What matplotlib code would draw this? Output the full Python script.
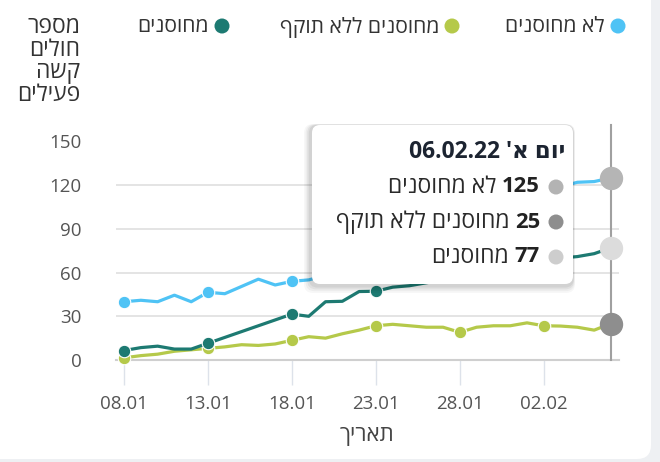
import numpy as np
import matplotlib
matplotlib.use('Agg')
import matplotlib.pyplot as plt
from matplotlib.patches import FancyBboxPatch, Circle
from matplotlib.text import Annotation
from matplotlib.transforms import Affine2D

plt.rcParams['font.family'] = ['Open Sans', 'DejaVu Sans']

# ---- data ----
dates = ['08.01', '09.01', '10.01', '11.01', '12.01', '13.01', '14.01', '15.01', '16.01', '17.01',
         '18.01', '19.01', '20.01', '21.01', '22.01', '23.01', '24.01', '25.01', '26.01', '27.01',
         '28.01', '29.01', '30.01', '31.01', '01.02', '02.02', '03.02', '04.02', '05.02', '06.02']
unvaccinated = [40, 41, 40, 44.5, 40, 46.5, 45.5, 50.5, 55.5, 51.5,
                54, 55, 58, 62, 66, 70, 75, 80, 84, 88,
                93, 98, 102, 107, 111, 115, 119, 122, 122.5, 125]
expired = [1.5, 3, 4, 6, 7, 8, 9, 10.5, 10, 11,
           13.5, 16, 15, 18, 20.5, 23.5, 24.5, 23.5, 22.5, 22.5,
           19, 22.5, 23.5, 23.5, 25.5, 23.5, 23.3, 22.5, 20.5, 25]
vaccinated = [6.5, 8.5, 9.5, 7.5, 7.5, 11.5, 15.5, 19.5, 23.5, 27.5,
              31.5, 30, 40, 40.3, 47, 47.2, 50, 51, 53, 55,
              58, 60, 62, 64, 66, 68, 70, 71, 73, 77]
yticks = [0, 30, 60, 90, 120, 150]
tick_idx = [0, 5, 10, 15, 20, 25]

names = {'unvac': 'לא מחוסנים', 'expired': 'מחוסנים ללא תוקף', 'vac': 'מחוסנים'}
ytitle = ['מספר', 'חולים', 'קשה', 'פעילים']
xtitle = 'תאריך'
tip_title = "יום א'"
tip_date = '06.02.22'

c_blue = '#4fc3f5'
c_green = '#b5c94a'
c_teal = '#1d7a72'


def heb(s):
    # matplotlib has no bidi support: flip the Hebrew text for display
    return s[::-1]


W, H = 660, 462
fig = plt.figure(figsize=(W / 100, H / 100), dpi=100)
fig.patch.set_facecolor('#eef0f3')
# pixel transform, y pointing down
pxT = Affine2D().scale(0.01, -0.01).translate(0, H / 100) + fig.dpi_scale_trans

fig.add_artist(FancyBboxPatch((-30, -30), 681, 489, boxstyle='round,pad=0,rounding_size=14',
                              transform=pxT, facecolor='white', edgecolor='none', zorder=-5))

ax = fig.add_axes([116 / W, 102 / H, 503 / W, 218.5 / H])
ax.set_facecolor('none')
x = np.arange(len(dates))

ax.plot(x, unvaccinated, color=c_blue, lw=2.3, marker='o', markevery=5, ms=9,
        mec='white', mew=0.8, zorder=3, clip_on=False, solid_capstyle='round')
ax.plot(x, expired, color=c_green, lw=2.3, marker='o', markevery=5, ms=9,
        mec='white', mew=0.8, zorder=4, clip_on=False, solid_capstyle='round')
ax.plot(x, vaccinated, color=c_teal, lw=2.3, marker='o', markevery=5, ms=9,
        mec='white', mew=0.8, zorder=5, clip_on=False, solid_capstyle='round')

# hover line and markers at the last day
last = len(dates) - 1
ax.plot([last, last], [0, 161], color='#a0a0a0', lw=1.5, zorder=6, clip_on=False)
ax.scatter([last], [unvaccinated[last]], s=250, color='#b5b5b5', zorder=7, clip_on=False)
ax.scatter([last], [vaccinated[last]], s=250, color='#dcdcdc', zorder=7, clip_on=False)
ax.scatter([last], [expired[last]], s=250, color='#8e8e8e', zorder=7, clip_on=False)

ax.set_xlim(-0.48, last + 0.48)
ax.set_ylim(0, 150)
ax.set_yticks(yticks)
ax.set_yticklabels([str(v) for v in yticks])
ax.set_xticks(tick_idx)
ax.set_xticklabels([dates[i] for i in tick_idx])
ax.grid(axis='y', color='#e2e2e2', lw=1.3)
ax.set_axisbelow(True)
for s in ['top', 'right', 'left']:
    ax.spines[s].set_visible(False)
ax.spines['bottom'].set_color('#cfcfcf')
ax.spines['bottom'].set_linewidth(1.5)
ax.tick_params(axis='y', length=0, pad=25, labelsize=13.5, labelcolor='#555555')
ax.tick_params(axis='x', length=18, width=1, color='#dde2ea', pad=7,
               labelsize=13.5, labelcolor='#555555')

# axis titles
fig.text(367, 436, heb(xtitle), transform=pxT, ha='center', va='center',
         fontsize=16, color='#444444')
for i, line in enumerate(ytitle):
    fig.text(80, 27 + 22.5 * i, heb(line), transform=pxT, ha='right', va='center',
             fontsize=16.5, color='#333333')

# legend across the top
legend_items = [(618, c_blue, names['unvac']), (452, c_green, names['expired']),
                (222, c_teal, names['vac'])]
for bx, col, label in legend_items:
    fig.add_artist(Circle((bx, 26), 7.5, transform=pxT, facecolor=col, edgecolor='none'))
    fig.text(bx - 13, 27, heb(label), transform=pxT, ha='right', va='center',
             fontsize=15.2, color='#333333')

# tooltip box with soft shadow
for k, a in [(5, 0.03), (4, 0.04), (3, 0.05), (2, 0.06)]:
    fig.add_artist(FancyBboxPatch((312 - k * 0.6, 125 + k * 0.8), 261, 159,
                                  boxstyle='round,pad=%d,rounding_size=9' % k,
                                  transform=pxT, facecolor='black', alpha=a,
                                  edgecolor='none', zorder=10))
fig.add_artist(FancyBboxPatch((312, 125), 261, 159, boxstyle='round,pad=0,rounding_size=8',
                              transform=pxT, facecolor='white', edgecolor='none', zorder=11))
fig.text(565, 152, tip_date + ' ' + heb(tip_title), transform=pxT, ha='right', va='center',
         fontsize=16.5, fontweight='bold', color='#1c2431', zorder=12)

tip_rows = [(187, '#b3b3b3', unvaccinated[last], names['unvac']),
            (222, '#8e8e8e', expired[last], names['expired']),
            (257, '#cdcdcd', vaccinated[last], names['vac'])]
for ty, col, val, label in tip_rows:
    fig.add_artist(Circle((556, ty), 7.5, transform=pxT, facecolor=col,
                          edgecolor='none', zorder=12))
    num = fig.text(540, ty, '%d' % val, transform=pxT, ha='right', va='center',
                   fontsize=15.8, fontweight='bold', color='#222222', zorder=12)
    fig.add_artist(Annotation(heb(label), xy=(0, 0.5), xycoords=num,
                              xytext=(-4, 0), textcoords='offset points',
                              ha='right', va='center', fontsize=16.5,
                              color='#2a2a2a', zorder=12))

fig.savefig('out.png', dpi=100, facecolor=fig.get_facecolor())
